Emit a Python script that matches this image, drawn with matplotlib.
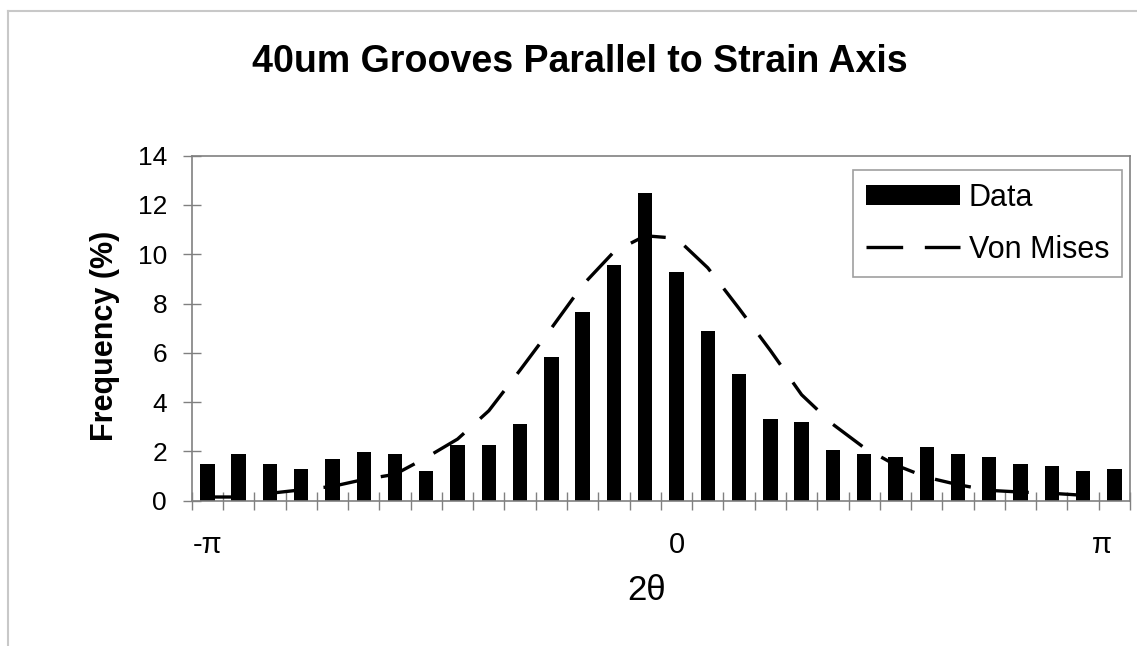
import numpy as np
import matplotlib
matplotlib.use("Agg")
import matplotlib.pyplot as plt
from matplotlib.lines import Line2D

plt.rcParams['font.family'] = ['Liberation Sans', 'DejaVu Sans']

# ---- data ----
bin_index = list(range(30))
data_pct = [1.5, 1.88, 1.5, 1.3, 1.69, 1.96, 1.88, 1.2, 2.26, 2.26,
            3.13, 5.82, 7.66, 9.58, 12.47, 9.29, 6.89, 5.14, 3.32, 3.21,
            2.07, 1.88, 1.79, 2.17, 1.88, 1.79, 1.49, 1.40, 1.2, 1.3]
von_mises = [0.15, 0.15, 0.3, 0.44, 0.58, 0.86, 1.07, 1.75, 2.5, 3.65,
             5.3, 7.0, 8.75, 10.1, 10.75, 10.65, 9.45, 7.8, 6.1, 4.3,
             3.1, 2.15, 1.45, 0.95, 0.65, 0.42, 0.35, 0.3, 0.22, 0.18]
x_tick_pos = [0, 15, 28.6]
x_tick_labels = ['-π', '0', 'π']
y_ticks = [0, 2, 4, 6, 8, 10, 12, 14]

W, H = 1137, 646
fig = plt.figure(figsize=(W / 100, H / 100), dpi=100)
ax = fig.add_axes([191.7 / W, 1 - 500.7 / H, (1130 - 191.7) / W, (500.7 - 155.7) / H])

x = np.array(bin_index)
bars = ax.bar(x, data_pct, width=0.46, color='black', label='Data', zorder=2)
line, = ax.plot(x, von_mises, color='black', lw=2.4, linestyle=(0, (11, 6.5)),
                label='Von Mises', zorder=3)

ax.set_xlim(-0.5, len(bin_index) - 0.5)
ax.set_ylim(0, 14)
ax.set_yticks(y_ticks)
ax.set_xticks(np.arange(-0.5, len(bin_index), 1.0))
ax.set_xticks(x_tick_pos, minor=True)
ax.set_xticklabels(x_tick_labels, minor=True)

gray = '#808080'
ax.tick_params(axis='x', which='major', direction='inout', length=13, color=gray,
               width=1, labelbottom=False)
ax.tick_params(axis='x', which='minor', length=0, pad=22, labelsize=21)
ax.tick_params(axis='y', direction='inout', length=13.5, color=gray, width=1,
               labelsize=19, pad=11)
for s in ax.spines.values():
    s.set_color(gray)
    s.set_linewidth(1.2)

fig.text(580 / W, 1 - 71.7 / H, '40um Grooves Parallel to Strain Axis',
         ha='center', va='baseline', fontsize=27, fontweight='bold')
fig.text(105.5 / W, 1 - 336 / H, 'Frequency (%)', rotation=90,
         ha='center', va='center', fontsize=22, fontweight='bold')
fig.text(647 / W, 1 - 600 / H, '2θ', ha='center', va='baseline', fontsize=25)

leg = ax.legend([bars, line], ['Data', 'Von Mises'],
                loc='upper right', bbox_to_anchor=(1122 / W, 1 - 170 / H),
                bbox_transform=fig.transFigure, borderaxespad=0, fontsize=22,
                handlelength=3.07, handleheight=0.62, handletextpad=0.3,
                borderpad=0.41, labelspacing=0.72, fancybox=False,
                edgecolor='#a0a0a0', framealpha=1)
leg.get_frame().set_linewidth(1.2)

# outer chart-area border (top and left visible)
fig.add_artist(Line2D([8 / W, 1], [1 - 11 / H, 1 - 11 / H], transform=fig.transFigure,
                      color='#c8c8c8', lw=1.5))
fig.add_artist(Line2D([8 / W, 8 / W], [1 - 11 / H, 0], transform=fig.transFigure,
                      color='#c8c8c8', lw=1.5))

fig.savefig('out.png', dpi=100)
